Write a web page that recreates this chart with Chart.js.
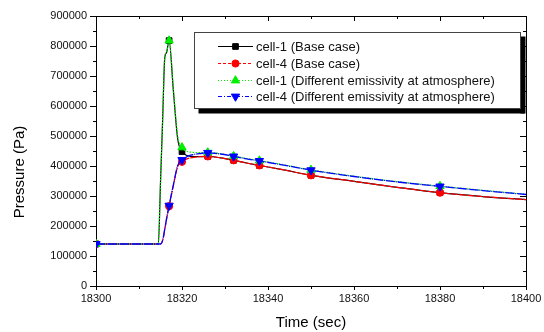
<!DOCTYPE html>
<html><head><meta charset="utf-8">
<script src="https://cdn.jsdelivr.net/npm/chart.js@4"></script>
<style>html,body{margin:0;padding:0;background:#fff}#wrap{width:544px;height:332px;position:relative}</style>
</head><body><div id="wrap"><canvas id="c" width="544" height="332"></canvas></div>
<script>
const times = [18300, 18314.5, 18315, 18315.5, 18316, 18316.4, 18317, 18318, 18319, 18320, 18321, 18322, 18324, 18326, 18329, 18332, 18335, 18338, 18344, 18350, 18360, 18370, 18380, 18390, 18400];
const cell1Base = [140000, 140000, 345000, 555000, 762000, 778000, 818000, 650000, 490000, 448000, 436000, 432000, 431000, 432000, 427000, 419000, 410000, 402000, 386000, 369000, 349000, 329000, 311000, 298000, 288000];
const cell4Base = [140000, 140000, 140000, 152000, 190000, 222000, 266000, 335000, 398000, 414000, 423000, 427000, 431000, 432000, 427000, 419000, 410000, 402000, 386000, 369000, 349000, 329000, 311000, 298000, 288000];
const cell1Emis = [140000, 140000, 345000, 555000, 762000, 778000, 818000, 655000, 500000, 462000, 450000, 446000, 445000, 445000, 441000, 433000, 425000, 418000, 403000, 387000, 366000, 348000, 333000, 319000, 306000];
const cell4Emis = [140000, 140000, 140000, 152000, 190000, 224000, 268000, 338000, 402000, 420000, 430000, 436000, 441000, 444000, 440000, 432000, 424000, 417000, 402000, 386000, 365000, 347000, 332000, 318000, 305000];
const markerTimes = [18300, 18317, 18320, 18326, 18332, 18338, 18350, 18380];
const seriesLabels = ['cell-1 (Base case)', 'cell-4 (Base case)', 'cell-1 (Different emissivity at atmosphere)', 'cell-4 (Different emissivity at atmosphere)'];
const xTicks = [18300, 18320, 18340, 18360, 18380, 18400];
const yTicks = [0, 100000, 200000, 300000, 400000, 500000, 600000, 700000, 800000, 900000];
const xMinor = [18310, 18330, 18350, 18370, 18390];
const yMinor = [50000, 150000, 250000, 350000, 450000, 550000, 650000, 750000, 850000];
const xTitle = 'Time (sec)';
const yTitle = 'Pressure (Pa)';

const FONT = '"Liberation Sans", Arial, Helvetica, sans-serif';
const styles = [
  {color:'#000000', dash:[], pointStyle:'rect', radius:4, rotation:0, width:1.2},
  {color:'#ff0000', dash:[7,1], pointStyle:'circle', radius:3.6, rotation:0, width:1.2},
  {color:'#00ee00', dash:[1.5,1.5], pointStyle:'triangle', radius:4.8, rotation:0, width:1.2},
  {color:'#0000ff', dash:[9,1,1,1], pointStyle:'triangle', radius:4.8, rotation:180, width:1.3}
];
const legendDash = [[], [3,2], [1,2], [4,2,1,2]];
const seriesValues = [cell1Base, cell4Base, cell1Emis, cell4Emis];

const datasets = seriesValues.map((vals, i) => ({
  label: seriesLabels[i],
  data: times.map((t, k) => ({x: t, y: vals[k]})),
  borderColor: styles[i].color,
  backgroundColor: styles[i].color,
  borderWidth: styles[i].width,
  borderDash: styles[i].dash,
  pointStyle: styles[i].pointStyle,
  pointRotation: styles[i].rotation,
  pointBorderColor: styles[i].color,
  pointBackgroundColor: styles[i].color,
  pointBorderWidth: 1,
  pointRadius: ctx => markerTimes.includes(times[ctx.dataIndex]) ? styles[i].radius : 0,
  pointHoverRadius: 0,
  cubicInterpolationMode: 'monotone',
  order: 4 - i
}));

function drawMarker(ctx, st, x, y) {
  ctx.save();
  ctx.fillStyle = st.color; ctx.strokeStyle = st.color; ctx.lineWidth = 1; ctx.setLineDash([]);
  const r = st.radius;
  ctx.beginPath();
  if (st.pointStyle === 'rect') {
    const s = r * Math.SQRT1_2;
    ctx.rect(x - s, y - s, 2 * s, 2 * s);
  } else if (st.pointStyle === 'circle') {
    ctx.arc(x, y, r, 0, Math.PI * 2);
  } else {
    let rad = st.rotation * Math.PI / 180;
    ctx.moveTo(x + Math.sin(rad) * r, y - Math.cos(rad) * r);
    rad += 2 * Math.PI / 3;
    ctx.lineTo(x + Math.sin(rad) * r, y - Math.cos(rad) * r);
    rad += 2 * Math.PI / 3;
    ctx.lineTo(x + Math.sin(rad) * r, y - Math.cos(rad) * r);
    ctx.closePath();
  }
  ctx.fill(); ctx.stroke();
  ctx.restore();
}

const framePlugin = {
  id: 'frame',
  afterDraw(chart) {
    const ctx = chart.ctx, a = chart.chartArea;
    const xs = chart.scales.x, ys = chart.scales.y;
    ctx.save();
    ctx.strokeStyle = '#000'; ctx.lineWidth = 1; ctx.setLineDash([]);
    ctx.beginPath();
    ctx.moveTo(a.left, a.top + 0.5); ctx.lineTo(a.right + 0.5, a.top + 0.5);
    ctx.moveTo(a.right + 0.5, a.top); ctx.lineTo(a.right + 0.5, a.bottom);
    ctx.stroke();
    ctx.beginPath();
    xTicks.forEach(v => { const p = Math.round(xs.getPixelForValue(v)) + 0.5; ctx.moveTo(p, a.top); ctx.lineTo(p, a.top + 5); });
    xMinor.forEach(v => { const p = Math.round(xs.getPixelForValue(v)) + 0.5; ctx.moveTo(p, a.top); ctx.lineTo(p, a.top + 3); });
    xMinor.forEach(v => { const p = Math.round(xs.getPixelForValue(v)) + 0.5; ctx.moveTo(p, a.bottom); ctx.lineTo(p, a.bottom + 3); });
    yTicks.forEach(v => { const p = Math.round(ys.getPixelForValue(v)) + 0.5; ctx.moveTo(a.right, p); ctx.lineTo(a.right - 6, p); });
    yMinor.forEach(v => { const p = Math.round(ys.getPixelForValue(v)) + 0.5; ctx.moveTo(a.right, p); ctx.lineTo(a.right - 3, p); });
    yMinor.forEach(v => { const p = Math.round(ys.getPixelForValue(v)) + 0.5; ctx.moveTo(a.left, p); ctx.lineTo(a.left - 3, p); });
    ctx.stroke();

    ctx.save();
    ctx.translate(20, 172);
    ctx.rotate(-Math.PI / 2);
    ctx.fillStyle = '#000'; ctx.font = '15px ' + FONT;
    ctx.textAlign = 'center'; ctx.textBaseline = 'middle';
    ctx.fillText(yTitle, 0, 0);
    ctx.restore();

    const bx = 194.5, by = 32.5, bw = 326, bh = 76;
    ctx.fillStyle = '#000';
    ctx.fillRect(bx + 4, by + bh, bw, 5);
    ctx.fillRect(bx + bw, by + 4, 5, bh + 1);
    ctx.fillStyle = '#fff';
    ctx.fillRect(bx, by, bw, bh);
    ctx.strokeStyle = '#444'; ctx.lineWidth = 1;
    ctx.strokeRect(bx, by, bw, bh);
    ctx.font = '13px ' + FONT; ctx.textBaseline = 'middle'; ctx.textAlign = 'left';
    chart.data.datasets.forEach((ds, i) => {
      const st = styles[i];
      const y = Math.round(46 + i * 16.8) + 0.5;
      ctx.save();
      ctx.strokeStyle = st.color; ctx.lineWidth = 1; ctx.setLineDash(legendDash[i]);
      ctx.beginPath(); ctx.moveTo(218, y); ctx.lineTo(253, y); ctx.stroke();
      ctx.restore();
      drawMarker(ctx, st, 235.5, y);
      ctx.fillStyle = '#111';
      ctx.fillText(ds.label, 256, y + 0.5);
    });
    ctx.restore();
  }
};

new Chart(document.getElementById('c'), {
  type: 'line',
  data: {datasets},
  options: {
    responsive: false,
    devicePixelRatio: 1,
    animation: false,
    events: [],
    layout: {padding: {top: 16, right: 18, bottom: 0, left: 0}},
    plugins: {legend: {display: false}, tooltip: {enabled: false}},
    scales: {
      x: {
        type: 'linear', min: 18300, max: 18400,
        afterBuildTicks: s => { s.ticks = xTicks.map(v => ({value: v})); },
        afterFit: s => { s.height = 46; },
        grid: {drawOnChartArea: false, drawTicks: true, tickLength: 4, color: '#000'},
        border: {display: true, color: '#000', width: 1},
        ticks: {color: '#111', font: {family: FONT, size: 11}, padding: 2, maxRotation: 0, autoSkip: false, callback: v => String(v)},
        title: {display: true, text: xTitle, color: '#000', font: {family: FONT, size: 15}, padding: {top: 4, bottom: 0}}
      },
      y: {
        type: 'linear', min: 0, max: 900000,
        afterBuildTicks: s => { s.ticks = yTicks.map(v => ({value: v})); },
        afterFit: s => { s.width = 96; },
        grid: {drawOnChartArea: false, drawTicks: true, tickLength: 6, color: '#000'},
        border: {display: true, color: '#000', width: 1},
        ticks: {color: '#111', font: {family: FONT, size: 11}, padding: 3, autoSkip: false, callback: v => String(v)}
      }
    }
  },
  plugins: [framePlugin]
});
</script></body></html>
